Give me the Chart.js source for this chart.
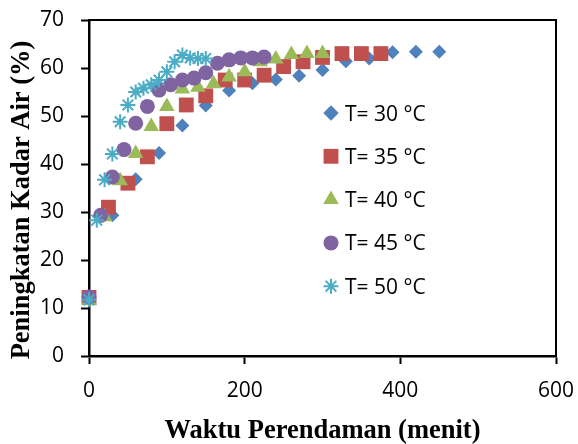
<!DOCTYPE html>
<html>
<head>
<meta charset="utf-8">
<script src="https://cdn.jsdelivr.net/npm/chart.js@4/dist/chart.umd.min.js"></script>
<style>
  html, body { margin: 0; padding: 0; background: #fff; }
  #wrap { width: 578px; height: 444px; }
</style>
</head>
<body>
<div id="wrap"><canvas id="c" width="578" height="444"></canvas></div>
<script>
// ---- data ----
const seriesLabels = ['T= 30 °C', 'T= 35 °C', 'T= 40 °C', 'T= 45 °C', 'T= 50 °C'];

const t30 = [0, 30, 60, 90, 120, 150, 180, 210, 240, 270, 300, 330, 360, 390, 420, 450];
const y30 = [12.0, 29.3, 36.8, 42.3, 48.0, 52.2, 55.3, 56.8, 57.6, 58.4, 59.6, 61.4, 62.0, 63.3, 63.4, 63.4];

const t35 = [0, 25, 50, 75, 100, 125, 150, 175, 200, 225, 250, 275, 300, 325, 350, 375];
const y35 = [12.2, 31.0, 36.0, 41.5, 48.4, 52.3, 54.2, 57.5, 57.5, 58.5, 60.3, 61.3, 62.2, 63.0, 63.0, 63.0];

const t40 = [0, 20, 40, 60, 80, 100, 120, 140, 160, 180, 200, 220, 240, 260, 280, 300];
const y40 = [11.5, 29.0, 36.5, 42.2, 47.8, 52.0, 55.6, 56.0, 56.7, 58.1, 59.2, 61.3, 61.9, 62.8, 63.0, 63.0];

const t45 = [0, 15, 30, 45, 60, 75, 90, 105, 120, 135, 150, 165, 180, 195, 210, 225];
const y45 = [12.3, 29.3, 37.3, 43.0, 48.5, 52.0, 55.4, 56.5, 57.5, 57.9, 59.0, 61.0, 61.7, 62.1, 62.1, 62.3];

const t50 = [0, 10, 20, 30, 40, 50, 60, 70, 80, 90, 100, 110, 120, 130, 140, 150];
const y50 = [11.7, 28.3, 36.7, 42.1, 48.8, 52.3, 55.0, 55.8, 56.5, 57.5, 59.2, 61.3, 62.7, 62.1, 62.0, 62.0];

const xTicks = [0, 200, 400, 600];
const yTicks = [0, 10, 20, 30, 40, 50, 60, 70];

const xTitle = 'Waktu Perendaman (menit)';
const yTitle = 'Peningkatan Kadar Air (%)';

// ---- build ----
function pts(xs, ys) { return xs.map((x, i) => ({ x: x, y: ys[i] })); }

const styles = [
  { color: '#4F81BD', pointStyle: 'rectRot', radius: 7, border: 0 },
  { color: '#C0504D', pointStyle: 'rect', radius: 10.5, border: 0 },
  { color: '#9BBB59', pointStyle: 'triangle', radius: 9, border: 0 },
  { color: '#8064A2', pointStyle: 'circle', radius: 7.5, border: 0 },
  { color: '#4BACC6', pointStyle: 'star', radius: 7.5, border: 2 }
];
const allX = [t30, t35, t40, t45, t50];
const allY = [y30, y35, y40, y45, y50];

const datasets = seriesLabels.map((lab, i) => ({
  label: lab,
  data: pts(allX[i], allY[i]),
  showLine: false,
  clip: false,
  pointStyle: styles[i].pointStyle,
  pointRadius: styles[i].radius,
  pointHoverRadius: styles[i].radius,
  backgroundColor: styles[i].color,
  borderColor: styles[i].color,
  pointBorderWidth: styles[i].border,
  order: 5 - i
}));

const F = '"Open Sans", "Liberation Sans", sans-serif';
const TF = '"Liberation Serif", "Times New Roman", serif';

const frame = {
  id: 'frame',
  beforeDatasetsDraw(chart) {
    const a = chart.chartArea, ctx = chart.ctx;
    ctx.save();
    ctx.strokeStyle = '#000';
    ctx.lineWidth = 2;
    ctx.beginPath();
    ctx.moveTo(a.left, a.top);
    ctx.lineTo(a.right, a.top);
    ctx.lineTo(a.right, a.bottom);
    ctx.stroke();
    // vertical axis title
    ctx.translate(22, 200);
    ctx.rotate(-Math.PI / 2);
    ctx.fillStyle = '#000';
    ctx.font = 'bold 26.5px ' + TF;
    ctx.textAlign = 'center';
    ctx.textBaseline = 'middle';
    ctx.fillText(yTitle, 0, 0);
    ctx.restore();
  }
};

const legendBox = {
  id: 'legendBox',
  afterDatasetsDraw(chart) {
    const ctx = chart.ctx;
    const mx = 331, tx = 345, y0 = 113, dy = 43.3;
    ctx.save();
    chart.data.datasets.forEach((ds, i) => {
      const cy = y0 + i * dy;
      const st = styles[i];
      ctx.fillStyle = st.color;
      ctx.strokeStyle = st.color;
      ctx.lineWidth = st.border || 1;
      Chart.helpers.drawPoint(ctx, {
        pointStyle: st.pointStyle,
        radius: st.radius * (st.pointStyle === 'rectRot' ? 1.1 : 1),
        borderWidth: st.border,
        rotation: 0
      }, mx, cy);
      ctx.fillStyle = '#000';
      ctx.font = '21px ' + F;
      ctx.textBaseline = 'alphabetic';
      ctx.textAlign = 'left';
      ctx.fillText(ds.label, tx, cy + 7.5);
    });
    ctx.restore();
  }
};

new Chart(document.getElementById('c'), {
  type: 'scatter',
  data: { datasets: datasets },
  plugins: [frame, legendBox],
  options: {
    responsive: false,
    animation: false,
    devicePixelRatio: 1,
    layout: { padding: { left: 0, right: 22, top: 20, bottom: 0 } },
    plugins: { legend: { display: false }, tooltip: { enabled: false } },
    scales: {
      x: {
        type: 'linear',
        min: 0, max: 600,
        afterBuildTicks(s) { s.ticks = xTicks.map(v => ({ value: v })); },
        afterFit(s) { s.height = 88; s.paddingLeft = 0; s.paddingRight = 0; },
        grid: { drawOnChartArea: false, drawTicks: true, tickLength: 8, tickWidth: 2, color: '#000' },
        border: { display: true, color: '#000', width: 2.5 },
        ticks: { color: '#000', font: { family: F, size: 21 }, padding: 14, maxRotation: 0 },
        title: { display: true, text: xTitle, color: '#000', padding: { top: 0, bottom: -3 },
                 font: { family: TF, size: 26.5, weight: 'bold' } }
      },
      y: {
        type: 'linear',
        min: 0, max: 70,
        afterBuildTicks(s) { s.ticks = yTicks.map(v => ({ value: v })); },
        afterFit(s) { s.width = 89; s.paddingTop = 0; s.paddingBottom = 0; },
        grid: { drawOnChartArea: false, drawTicks: true, tickLength: 8, tickWidth: 2, color: '#000' },
        border: { display: true, color: '#000', width: 2.5 },
        ticks: { color: '#000', font: { family: F, size: 21 }, padding: 17 },
        title: { display: false, text: yTitle }
      }
    }
  }
});
</script>
</body>
</html>
